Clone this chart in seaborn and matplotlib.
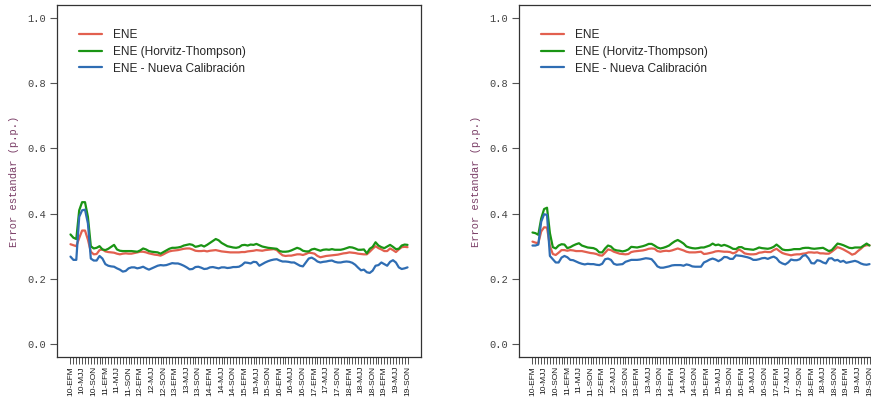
import numpy as np
import pandas as pd
import seaborn as sns
import matplotlib
matplotlib.use("Agg")
from matplotlib import pyplot as plt

# trimestres moviles 10-EFM ... 19-SON
seasons = ["EFM", "FMA", "MAM", "AMJ", "MJJ", "JJA", "JAS", "ASO", "SON", "OND", "NDE", "DEF"]
periods = [f"{10 + k // 12}-{seasons[k % 12]}" for k in range(117)]

# panel izquierdo
left_ene = [
    0.306, 0.303, 0.300, 0.325, 0.348, 0.348, 0.320, 0.283, 0.275, 0.276,
    0.288, 0.290, 0.284, 0.282, 0.281, 0.280, 0.277, 0.275, 0.277, 0.278,
    0.277, 0.277, 0.279, 0.281, 0.283, 0.283, 0.281, 0.278, 0.276, 0.274,
    0.273, 0.271, 0.275, 0.280, 0.284, 0.286, 0.287, 0.288, 0.290, 0.292,
    0.293, 0.293, 0.290, 0.286, 0.285, 0.285, 0.286, 0.284, 0.286, 0.287,
    0.288, 0.286, 0.284, 0.283, 0.282, 0.281, 0.281, 0.281, 0.281, 0.282,
    0.282, 0.284, 0.285, 0.286, 0.288, 0.287, 0.286, 0.288, 0.289, 0.290,
    0.291, 0.288, 0.279, 0.272, 0.270, 0.271, 0.271, 0.273, 0.275, 0.275,
    0.273, 0.276, 0.280, 0.279, 0.277, 0.270, 0.266, 0.268, 0.270, 0.271,
    0.272, 0.273, 0.274, 0.276, 0.278, 0.279, 0.281, 0.280, 0.279, 0.277,
    0.276, 0.275, 0.275, 0.283, 0.292, 0.300, 0.294, 0.290, 0.285, 0.285,
    0.293, 0.288, 0.282, 0.290, 0.297, 0.298, 0.297,
]
left_ht = [
    0.336, 0.326, 0.322, 0.410, 0.435, 0.435, 0.390, 0.300, 0.293, 0.295,
    0.300, 0.290, 0.288, 0.292, 0.298, 0.304, 0.290, 0.286, 0.285, 0.285,
    0.285, 0.285, 0.284, 0.283, 0.287, 0.293, 0.290, 0.285, 0.283, 0.282,
    0.281, 0.277, 0.282, 0.287, 0.292, 0.295, 0.295, 0.296, 0.298, 0.302,
    0.304, 0.306, 0.304, 0.298, 0.300, 0.303, 0.299, 0.304, 0.310, 0.316,
    0.322, 0.318, 0.310, 0.305, 0.300, 0.298, 0.296, 0.295, 0.297, 0.303,
    0.304, 0.302, 0.305, 0.304, 0.307, 0.303, 0.299, 0.297, 0.295, 0.294,
    0.293, 0.292, 0.285, 0.283, 0.283, 0.284, 0.287, 0.291, 0.295, 0.292,
    0.286, 0.284, 0.284, 0.290, 0.292, 0.289, 0.286, 0.289, 0.290, 0.289,
    0.291, 0.289, 0.289, 0.289, 0.291, 0.294, 0.297, 0.296, 0.293, 0.289,
    0.289, 0.290, 0.278, 0.292, 0.298, 0.312, 0.302, 0.297, 0.294, 0.299,
    0.304, 0.298, 0.291, 0.292, 0.302, 0.305, 0.304,
]
left_nc = [
    0.268, 0.258, 0.258, 0.390, 0.410, 0.412, 0.370, 0.262, 0.256, 0.256,
    0.270, 0.262, 0.245, 0.240, 0.238, 0.237, 0.232, 0.228, 0.222, 0.224,
    0.232, 0.235, 0.235, 0.232, 0.234, 0.237, 0.232, 0.228, 0.232, 0.236,
    0.240, 0.242, 0.241, 0.242, 0.245, 0.248, 0.247, 0.247, 0.244, 0.240,
    0.235, 0.229, 0.230, 0.236, 0.237, 0.234, 0.230, 0.231, 0.235, 0.236,
    0.234, 0.232, 0.235, 0.235, 0.233, 0.234, 0.236, 0.236, 0.237, 0.242,
    0.250, 0.249, 0.247, 0.252, 0.251, 0.240, 0.245, 0.250, 0.254, 0.257,
    0.259, 0.260, 0.256, 0.253, 0.253, 0.252, 0.250, 0.250, 0.245, 0.240,
    0.238, 0.250, 0.262, 0.265, 0.260, 0.253, 0.250, 0.252, 0.253, 0.255,
    0.256, 0.252, 0.250, 0.250, 0.252, 0.253, 0.252, 0.249, 0.243, 0.234,
    0.226, 0.228, 0.220, 0.218, 0.225, 0.240, 0.242, 0.250, 0.245, 0.240,
    0.252, 0.257, 0.250, 0.235, 0.230, 0.232, 0.235,
]

# panel derecho
right_ene = [
    0.314, 0.311, 0.309, 0.345, 0.358, 0.357, 0.300, 0.276, 0.273, 0.280,
    0.288, 0.288, 0.286, 0.288, 0.287, 0.285, 0.285, 0.285, 0.283, 0.281,
    0.279, 0.278, 0.276, 0.272, 0.271, 0.280, 0.290, 0.288, 0.283, 0.280,
    0.277, 0.276, 0.275, 0.276, 0.282, 0.284, 0.285, 0.286, 0.287, 0.289,
    0.292, 0.293, 0.292, 0.285, 0.283, 0.285, 0.286, 0.285, 0.287, 0.290,
    0.293, 0.290, 0.287, 0.283, 0.281, 0.281, 0.281, 0.282, 0.283, 0.276,
    0.277, 0.279, 0.281, 0.284, 0.285, 0.284, 0.283, 0.283, 0.282, 0.278,
    0.281, 0.290, 0.285, 0.278, 0.276, 0.275, 0.275, 0.276, 0.280, 0.281,
    0.283, 0.282, 0.282, 0.288, 0.292, 0.285, 0.279, 0.276, 0.274, 0.272,
    0.274, 0.275, 0.275, 0.277, 0.278, 0.281, 0.281, 0.280, 0.281, 0.278,
    0.278, 0.277, 0.277, 0.283, 0.290, 0.297, 0.294, 0.290, 0.285, 0.280,
    0.274, 0.277, 0.285, 0.292, 0.300, 0.303, 0.303,
]
right_ht = [
    0.342, 0.340, 0.335, 0.385, 0.414, 0.418, 0.340, 0.297, 0.293, 0.302,
    0.306, 0.305, 0.294, 0.297, 0.302, 0.306, 0.309, 0.302, 0.299, 0.296,
    0.295, 0.294, 0.290, 0.281, 0.281, 0.293, 0.302, 0.299, 0.290, 0.287,
    0.286, 0.284, 0.286, 0.290, 0.298, 0.297, 0.296, 0.298, 0.300, 0.303,
    0.307, 0.307, 0.302, 0.296, 0.293, 0.295, 0.298, 0.302, 0.309, 0.315,
    0.319, 0.314, 0.308, 0.299, 0.296, 0.294, 0.293, 0.294, 0.296, 0.296,
    0.299, 0.302, 0.308, 0.303, 0.305, 0.301, 0.304, 0.301, 0.297, 0.292,
    0.291, 0.297, 0.297, 0.292, 0.291, 0.290, 0.289, 0.292, 0.296, 0.294,
    0.293, 0.292, 0.294, 0.298, 0.305, 0.298, 0.290, 0.288, 0.288, 0.289,
    0.291, 0.291, 0.291, 0.294, 0.295, 0.295, 0.293, 0.292, 0.293, 0.294,
    0.295, 0.290, 0.285, 0.288, 0.298, 0.308, 0.306, 0.303, 0.299, 0.295,
    0.294, 0.296, 0.296, 0.296, 0.302, 0.308, 0.302,
]
right_nc = [
    0.302, 0.302, 0.305, 0.375, 0.398, 0.396, 0.270, 0.260, 0.250, 0.250,
    0.265, 0.270, 0.266, 0.258, 0.257, 0.253, 0.249, 0.246, 0.244, 0.246,
    0.245, 0.245, 0.243, 0.242, 0.246, 0.260, 0.262, 0.258, 0.246, 0.243,
    0.244, 0.245, 0.252, 0.255, 0.258, 0.258, 0.258, 0.259, 0.261, 0.263,
    0.262, 0.260, 0.250, 0.238, 0.234, 0.234, 0.236, 0.238, 0.241, 0.242,
    0.242, 0.242, 0.240, 0.244, 0.242, 0.238, 0.237, 0.237, 0.237, 0.250,
    0.254, 0.259, 0.262, 0.259, 0.254, 0.259, 0.267, 0.266, 0.261, 0.261,
    0.272, 0.271, 0.270, 0.268, 0.266, 0.263, 0.258, 0.258, 0.260, 0.263,
    0.264, 0.261, 0.265, 0.268, 0.263, 0.252, 0.247, 0.244, 0.250, 0.259,
    0.257, 0.257, 0.260, 0.270, 0.273, 0.263, 0.248, 0.247, 0.257, 0.255,
    0.250, 0.247, 0.262, 0.263, 0.256, 0.258, 0.252, 0.255, 0.249, 0.251,
    0.253, 0.255, 0.252, 0.247, 0.244, 0.243, 0.245,
]

series_names = ["ENE", "ENE (Horvitz-Thompson)", "ENE - Nueva Calibración"]
colors = {"ENE": "#e2604f", "ENE (Horvitz-Thompson)": "#1a9414", "ENE - Nueva Calibración": "#2f6db3"}

sns.set_style("white")
plt.rcParams["font.family"] = ["Liberation Sans", "DejaVu Sans"]


def make_df(ene, ht, nc):
    frames = []
    for name, vals in zip(series_names, [ene, ht, nc]):
        frames.append(pd.DataFrame({"pos": np.arange(len(vals)), "se": vals, "serie": name}))
    return pd.concat(frames, ignore_index=True)


fig = plt.figure(figsize=(8.71, 4.04), dpi=100)
ax1 = fig.add_axes([57 / 871, 47 / 404, 364 / 871, 352 / 404])
ax2 = fig.add_axes([519 / 871, 47 / 404, 364 / 871, 352 / 404])

tick_labels = [p if k % 4 == 0 else "" for k, p in enumerate(periods)]

for ax, data in [(ax1, (left_ene, left_ht, left_nc)), (ax2, (right_ene, right_ht, right_nc))]:
    df = make_df(*data)
    sns.lineplot(data=df, x="pos", y="se", hue="serie", hue_order=series_names,
                 palette=colors, linewidth=1.6, ax=ax)
    n = len(periods)
    ax.set_xlim(-0.04 * (n - 1), (n - 1) * 1.04)
    ax.set_ylim(-0.04, 1.04)
    ax.set_xticks(np.arange(n))
    ax.set_xticklabels(tick_labels, rotation=90, fontsize=6, color="#1a1a1a")
    ax.set_yticks([0.0, 0.2, 0.4, 0.6, 0.8, 1.0])
    ax.set_yticklabels(["0.0", "0.2", "0.4", "0.6", "0.8", "1.0"],
                       family="Liberation Mono", fontsize=7.5, color="#444444")
    ax.tick_params(axis="x", length=5, width=0.6, color="#333333", pad=1.5, bottom=True)
    ax.tick_params(axis="y", length=5, width=0.8, color="#555555", pad=3, left=True)
    ax.set_xlabel("")
    ax.set_ylabel("Error estandar (p.p.)", family="Liberation Mono", fontsize=7.5,
                  color="#7a3d66", labelpad=6)
    for sp in ax.spines.values():
        sp.set_color("#333333")
        sp.set_linewidth(0.9)
    ax.legend(loc="upper left", bbox_to_anchor=(0.046, 0.944), frameon=False,
              fontsize=8.6, handlelength=2.0, handletextpad=0.85, labelspacing=0.38,
              borderaxespad=0)

fig.savefig("out.png", dpi=100)
